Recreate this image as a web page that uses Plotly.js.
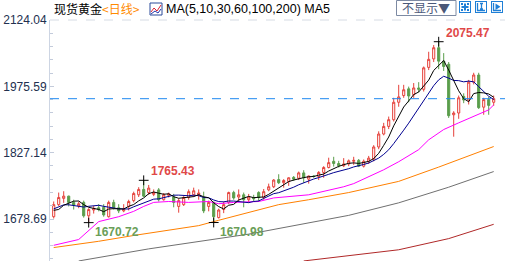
<!DOCTYPE html>
<html><head><meta charset="utf-8">
<script src="https://cdn.plot.ly/plotly-3.0.1.min.js"></script>
<style>html,body{margin:0;padding:0;background:#fff;overflow:hidden}#wrap{position:relative;width:505px;height:261px}#chart{width:505px;height:261px}
#tools{position:absolute;left:459px;top:1px;width:46px;height:14px;display:flex;gap:4px}
#tools svg{display:block}</style>
</head><body><div id="wrap"><div id="chart"></div>
<div id="tools">
<svg width="12" height="12" viewBox="0 0 12 12"><rect x="0.5" y="0.5" width="11" height="11" fill="#fff" stroke="#1f7fd6"/><path d="M6 2.5V9.5M2.5 6H9.5" stroke="#1f7fd6" stroke-width="2"/><rect x="2" y="2" width="2" height="2" fill="#1f7fd6"/><rect x="8" y="2" width="2" height="2" fill="#1f7fd6"/><rect x="2" y="8" width="2" height="2" fill="#1f7fd6"/><rect x="8" y="8" width="2" height="2" fill="#1f7fd6"/></svg>
<svg width="12" height="12" viewBox="0 0 12 12"><rect x="0.5" y="0.5" width="11" height="11" fill="#fff" stroke="#1f7fd6"/><path d="M2.5 2V9.5H10M5 2.5H8M6.5 2.5V8M5 8H8" stroke="#1f7fd6" stroke-width="1.3" fill="none"/></svg>
<svg width="12" height="12" viewBox="0 0 12 12"><rect x="0.5" y="0.5" width="11" height="11" fill="#fff" stroke="#1f7fd6"/><path d="M2.5 2V9.5H10" stroke="#1f7fd6" stroke-width="1.3" fill="none"/><path d="M4.5 2.5L9.5 5.8L4.5 9Z" fill="#1f7fd6"/></svg>
</div></div>
<script>
// ---- data (daily candles) ----
const opens  = [1684,1711,1725,1730,1716,1708,1716,1686,1699,1704,1705,1684,1716,1704,1697,1707,1720,1733,1745,1738,1734,1744,1722,1732,1728,1707,1711,1727,1733,1733,1727,1707,1716,1682,1700,1716,1738,1728,1733,1722,1727,1738,1727,1744,1751,1767,1760,1763,1772,1770,1782,1768,1775,1774,1783,1794,1808,1803,1798,1802,1808,1810,1797,1808,1813,1840,1869,1886,1901,1940,1955,1970,1957,1972,1969,2018,2037,2062,2032,2025,1912,1916,1953,1945,1985,2001,1929,1946,1940];
const highs  = [1718,1738,1741,1731,1722,1718,1720,1703,1708,1712,1712,1720,1722,1712,1712,1722,1740,1750,1765.43,1755,1745,1748,1737,1738,1735,1725,1730,1745,1749,1745,1740,1720,1718,1702,1718,1740,1742,1745,1738,1735,1733,1741,1746,1758,1768,1779,1768,1772,1775,1785,1788,1776,1777,1786,1797,1816,1818,1809,1815,1812,1818,1813,1812,1820,1844,1875,1894,1908,1950,1979,1979,1975,1983,1985,2020,2053,2068,2075.47,2050,2030,1920,1955,1960,1990,2006,2006,1950,1952,1955];
const lows   = [1680,1708,1715,1707,1700,1703,1682,1670.72,1691,1696,1684,1682,1700,1692,1694,1698,1716,1728,1728,1733,1730,1718,1720,1727,1705,1693,1708,1722,1728,1722,1692,1696,1670.98,1680,1692,1712,1722,1718,1705,1715,1718,1718,1722,1741,1748,1757,1749,1753,1764,1766,1760,1758,1771,1766,1771,1792,1796,1794,1795,1797,1800,1795,1794,1802,1808,1835,1866,1880,1897,1930,1950,1940,1950,1962,1964,2012,2030,2014,2010,1905,1863,1903,1938,1935,1980,1925,1912,1912,1932];
const closes = [1711,1727,1730,1716,1710,1713,1686,1700,1702,1700,1688,1716,1704,1697,1701,1718,1736,1745,1730,1748,1738,1722,1733,1735,1716,1720,1727,1740,1742,1737,1697,1716,1684,1699,1711,1738,1726,1733,1722,1728,1724,1727,1740,1751,1766,1760,1765,1771,1768,1782,1771,1775,1774,1783,1794,1805,1803,1798,1802,1809,1810,1797,1808,1815,1840,1869,1886,1901,1940,1952,1968,1954,1972,1969,2017,2036,2062,2032,2020,1910,1916,1950,1945,1985,2001,1928,1946,1933,1948];
const prevCloses = [1683,1684,1714,1727,1716,1717,1683,1694,1686]; // closes before the first candle (for MA5/MA10)

// longer moving averages at selected candles
const ma30Idx = [0,5,9,13,16,18,20,23,27,31,33,36,41,44,51,58,60,66,69,73,75,78,81,84,87,88];
const ma30Val = [1620,1633,1673,1684,1696,1707,1716,1718,1716,1718,1713,1716,1718,1726,1733,1751,1758,1789,1807,1834,1856,1879,1894,1908,1923,1934];
const ma60Idx = [0,9,16,19,29,33,39,45,51,59,69,77,88];
const ma60Val = [1615,1629,1642,1647,1664,1676,1693,1711,1722,1738,1763,1795,1841];
const ma100Idx = [5,19,39,59,69,79,88];
const ma100Val = [1585,1612,1645,1687,1715,1750,1785];
const ma200Idx = [50,69,79,88];
const ma200Val = [1585,1610,1635,1667];

const yTickVals = [2124.04,1975.59,1827.14,1678.69];
const yTickText = ['2124.04','1975.59','1827.14','1678.69'];
const markHigh = [77,18];   // candles whose high is labelled
const markLow  = [7,32];    // candles whose low is labelled

// ---- helpers ----
const W=505,H=261,L=50,R=0,T=20,B=0;
const PX = p => (p-L)/(W-L-R);
const PY = p => (H-B-p)/(H-T-B);
const idx = closes.map((_,i)=>i);
function movingAvg(n){
  const all = prevCloses.concat(closes), off = prevCloses.length, out=[];
  for(let i=0;i<closes.length;i++){
    const e=i+off, s=Math.max(0,e-n+1); let sum=0;
    for(let k=s;k<=e;k++) sum+=all[k];
    out.push(sum/(e-s+1));
  }
  return out;
}
const RED='#e5403a', GREEN='#5a9e4c';

const traces = [
  {type:'candlestick', x:idx, open:opens, high:highs, low:lows, close:closes,
   increasing:{line:{color:RED,width:1}, fillcolor:'#ffffff'},
   decreasing:{line:{color:GREEN,width:1}, fillcolor:GREEN},
   whiskerwidth:0, hoverinfo:'skip'},
  {type:'scatter',mode:'lines',x:ma200Idx,y:ma200Val,line:{color:'#b02828',width:1},hoverinfo:'skip'},
  {type:'scatter',mode:'lines',x:ma100Idx,y:ma100Val,line:{color:'#707070',width:1},hoverinfo:'skip'},
  {type:'scatter',mode:'lines',x:ma60Idx,y:ma60Val,line:{color:'#ff8000',width:1},hoverinfo:'skip'},
  {type:'scatter',mode:'lines',x:ma30Idx,y:ma30Val,line:{color:'#ff00ff',width:1},hoverinfo:'skip'},
  {type:'scatter',mode:'lines',x:idx,y:movingAvg(10),line:{color:'#000090',width:1},hoverinfo:'skip'},
  {type:'scatter',mode:'lines',x:idx,y:movingAvg(5),line:{color:'#000000',width:1},hoverinfo:'skip'},
  {type:'scatter',mode:'markers',x:markHigh.concat(markLow),
   y:markHigh.map(i=>highs[i]).concat(markLow.map(i=>lows[i])),
   marker:{symbol:'cross-thin',size:7,line:{color:'#000',width:1}},hoverinfo:'skip'}
];

const ann = [];
markHigh.forEach(i=>ann.push({x:i,y:highs[i],xref:'x',yref:'y',text:highs[i].toFixed(2),showarrow:false,
  xanchor:'left',yanchor:'middle',xshift:5,yshift:9,font:{family:'Liberation Sans, Arial',size:12,color:'#e04848',weight:'bold'}}));
markLow.forEach(i=>ann.push({x:i,y:lows[i],xref:'x',yref:'y',text:lows[i].toFixed(2),showarrow:false,
  xanchor:'left',yanchor:'middle',xshift:4,yshift:-9,font:{family:'Liberation Sans, Arial',size:12,color:'#6a9e58',weight:'bold'}}));
ann.push({xref:'paper',yref:'paper',x:PX(52),y:PY(9),xanchor:'left',yanchor:'middle',showarrow:false,
  text:'现货黄金<span style="color:#ff8a00">&lt;日线&gt;</span>',font:{family:'Noto Sans CJK SC',size:12,color:'#000'}});
ann.push({xref:'paper',yref:'paper',x:PX(164),y:PY(9),xanchor:'left',yanchor:'middle',showarrow:false,
  text:'MA(5,10,30,60,100,200) MA5',font:{family:'Liberation Sans, Arial',size:12.5,color:'#000'}});
ann.push({xref:'paper',yref:'paper',x:PX(426),y:PY(8),xanchor:'center',yanchor:'middle',showarrow:false,
  text:'不显示▼',font:{family:'Noto Sans CJK SC',size:12,color:'#4a5878'}});

const shapes = [
  // top dashed border
  {type:'line',xref:'paper',yref:'paper',x0:0,x1:1,y0:1,y1:1,line:{color:'#d6dbe4',width:1,dash:'dash'}},
  // current price line
  {type:'line',xref:'paper',yref:'y',x0:0,x1:1,y0:closes[closes.length-1],y1:closes[closes.length-1],line:{color:'#1e88f0',width:1,dash:'dash'}},
  // legend icon
  {type:'rect',xref:'paper',yref:'paper',x0:PX(150),x1:PX(162),y0:PY(15),y1:PY(3),line:{color:'#2b4a9a',width:1},fillcolor:'#fff'},
  {type:'path',xref:'paper',yref:'paper',path:`M${PX(151)},${PY(12)} L${PX(154)},${PY(8)} L${PX(157)},${PY(11)} L${PX(161)},${PY(5)}`,line:{color:'#d23',width:1}},
  {type:'path',xref:'paper',yref:'paper',path:`M${PX(151)},${PY(14)} L${PX(155)},${PY(11)} L${PX(158)},${PY(13)} L${PX(161)},${PY(9)}`,line:{color:'#23a',width:1}},
  // dropdown box
  {type:'rect',xref:'paper',yref:'paper',x0:PX(396.5),x1:PX(456),y0:PY(15.5),y1:PY(0.5),line:{color:'#7d8aa3',width:1},fillcolor:'rgba(0,0,0,0)'}
];

const layout = {
  width:W,height:H,margin:{l:L,r:R,t:T,b:B,pad:0},
  paper_bgcolor:'#fff',plot_bgcolor:'#fff',showlegend:false,boxgap:0.4,
  xaxis:{range:[-0.74,90.26],visible:false,fixedrange:true,rangeslider:{visible:false}},
  yaxis:{range:[1584.9,2124.04],tickvals:yTickVals,ticktext:yTickText,ticks:'inside',ticklen:4,tickcolor:'#c3cbdb',
    showline:true,linecolor:'#cdd5e3',linewidth:1,showgrid:false,zeroline:false,fixedrange:true,
    tickfont:{family:'Liberation Sans, Arial',size:12,color:'#22304f'},
    minor:{tick0:1678.69,dtick:29.69,ticks:'inside',ticklen:3,tickcolor:'#c3cbdb',showgrid:false}},
  annotations:ann,shapes:shapes
};
Plotly.newPlot('chart',traces,layout,{staticPlot:true,displayModeBar:false});
</script></body></html>
